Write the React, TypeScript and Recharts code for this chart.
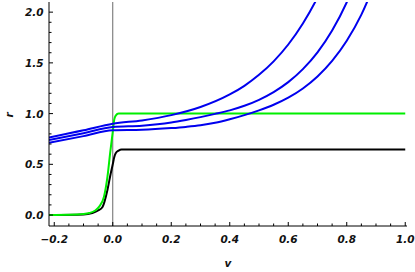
import React from "react";
import { LineChart, Line, XAxis, YAxis, ReferenceLine } from "recharts";

// r(v) curves
const greenCurve = [
    { v: -0.218, r: 0 }, { v: -0.15, r: 0.002 }, { v: -0.1, r: 0.01 }, { v: -0.08, r: 0.02 },
    { v: -0.06, r: 0.045 }, { v: -0.047, r: 0.08 }, { v: -0.03, r: 0.18 }, { v: -0.018, r: 0.38 },
    { v: -0.009, r: 0.61 }, { v: 0, r: 0.82 }, { v: 0.005, r: 0.94 }, { v: 0.01, r: 0.98 },
    { v: 0.02, r: 1.0 }, { v: 0.05, r: 1.0 }, { v: 1.0, r: 1.0 },
];

const blackCurve = [
    { v: -0.218, r: 0 }, { v: -0.1, r: 0.005 }, { v: -0.07, r: 0.02 }, { v: -0.05, r: 0.045 },
    { v: -0.035, r: 0.08 }, { v: -0.018, r: 0.25 }, { v: -0.007, r: 0.41 }, { v: 0, r: 0.5 },
    { v: 0.005, r: 0.57 }, { v: 0.01, r: 0.61 }, { v: 0.02, r: 0.635 }, { v: 0.03, r: 0.645 },
    { v: 0.05, r: 0.645 }, { v: 1.0, r: 0.645 },
];

const blueCurve1 = [
    { v: -0.218, r: 0.765 }, { v: -0.1, r: 0.835 }, { v: 0, r: 0.9 }, { v: 0.1, r: 0.933 },
    { v: 0.2, r: 0.985 }, { v: 0.3, r: 1.065 }, { v: 0.4, r: 1.189 }, { v: 0.45, r: 1.274 },
    { v: 0.5, r: 1.382 }, { v: 0.55, r: 1.515 }, { v: 0.6, r: 1.681 }, { v: 0.65, r: 1.888 },
    { v: 0.7, r: 2.145 }, { v: 0.75, r: 2.47 },
];

const blueCurve2 = [
    { v: -0.218, r: 0.74 }, { v: -0.1, r: 0.807 }, { v: 0, r: 0.867 }, { v: 0.1, r: 0.88 },
    { v: 0.2, r: 0.912 }, { v: 0.25, r: 0.937 }, { v: 0.3, r: 0.965 }, { v: 0.35, r: 0.997 },
    { v: 0.4, r: 1.032 }, { v: 0.45, r: 1.077 }, { v: 0.5, r: 1.136 }, { v: 0.55, r: 1.212 },
    { v: 0.6, r: 1.31 }, { v: 0.65, r: 1.438 }, { v: 0.7, r: 1.604 }, { v: 0.75, r: 1.819 },
    { v: 0.8, r: 2.097 }, { v: 0.85, r: 2.459 },
];

const blueCurve3 = [
    { v: -0.218, r: 0.712 }, { v: -0.1, r: 0.778 }, { v: 0, r: 0.835 }, { v: 0.1, r: 0.84 },
    { v: 0.2, r: 0.857 }, { v: 0.25, r: 0.869 }, { v: 0.3, r: 0.885 }, { v: 0.35, r: 0.91 },
    { v: 0.4, r: 0.945 }, { v: 0.45, r: 0.985 }, { v: 0.5, r: 1.032 }, { v: 0.55, r: 1.087 },
    { v: 0.6, r: 1.157 }, { v: 0.65, r: 1.248 }, { v: 0.7, r: 1.366 }, { v: 0.75, r: 1.519 },
    { v: 0.8, r: 1.718 }, { v: 0.85, r: 1.976 }, { v: 0.9, r: 2.311 },
];

const xMajorTicks = [-0.2, 0, 0.2, 0.4, 0.6, 0.8, 1.0];
const xMinorTicks = [-0.15, -0.1, -0.05, 0.05, 0.1, 0.15, 0.25, 0.3, 0.35, 0.45, 0.5, 0.55, 0.65, 0.7, 0.75, 0.85, 0.9, 0.95];
const yMajorTicks = [0, 0.5, 1.0, 1.5, 2.0];
const yMinorTicks = [0.1, 0.2, 0.3, 0.4, 0.6, 0.7, 0.8, 0.9, 1.1, 1.2, 1.3, 1.4, 1.6, 1.7, 1.8, 1.9];

const xTicks = [...xMajorTicks, ...xMinorTicks].sort((a, b) => a - b);
const yTicks = [...yMajorTicks, ...yMinorTicks].sort((a, b) => a - b);

const xDomain = [-0.218, 1.006];
const yDomain = [-0.108, 2.1];

const labelFont = {
    fontFamily: "DejaVu Sans",
    fontWeight: "bold" as const,
    fontStyle: "italic" as const,
    fontSize: 10.5,
    fill: "#111",
};

const isMajor = (v: number, step: number) => Math.abs(v / step - Math.round(v / step)) < 1e-6;
const fmt = (v: number) => (v < 0 ? "\u2212" + Math.abs(v).toFixed(1) : v.toFixed(1));
const MAJOR = 4;
const MINOR = 2.5;

function BottomTick({ x, y, payload }: any) {
    const major = isMajor(payload.value, 0.2);
    return (
        <g>
            <line x1={x} x2={x} y1={y} y2={y - (major ? MAJOR : MINOR)} stroke="#000" />
            {major && (
                <text x={x} y={y + 16.5} textAnchor="middle" {...labelFont}>
                    {fmt(payload.value)}
                </text>
            )}
        </g>
    );
}

function TopTick({ x, y, payload }: any) {
    const major = isMajor(payload.value, 0.2);
    return <line x1={x} x2={x} y1={y} y2={y + (major ? MAJOR : MINOR)} stroke="#000" />;
}

function LeftTick({ x, y, payload }: any) {
    const major = isMajor(payload.value, 0.5);
    return (
        <g>
            <line x1={x} x2={x + (major ? MAJOR : MINOR)} y1={y} y2={y} stroke="#000" />
            {major && (
                <text x={x - 5.5} y={y + 4} textAnchor="end" {...labelFont}>
                    {fmt(payload.value)}
                </text>
            )}
        </g>
    );
}

function RightTick({ x, y, payload }: any) {
    const major = isMajor(payload.value, 0.5);
    return <line x1={x} x2={x - (major ? MAJOR : MINOR)} y1={y} y2={y} stroke="#000" />;
}

export default function App() {
    return (
        <div style={{ position: "absolute", left: 0, top: 0, background: "#fff" }}>
            <LineChart width={415} height={272} margin={{ top: 2, right: 8, bottom: 0, left: 0 }}>
                <XAxis
                    dataKey="v"
                    type="number"
                    domain={xDomain}
                    ticks={xTicks}
                    interval={0}
                    allowDataOverflow
                    height={46}
                    tickSize={0}
                    tickMargin={0}
                    tickLine={false}
                    tick={<BottomTick />}
                    axisLine={{ stroke: "#000" }}
                    label={{
                        content: () => (
                            <text x={228} y={267} textAnchor="middle" {...labelFont}>
                                v
                            </text>
                        ),
                    }}
                />
                <XAxis
                    xAxisId="top"
                    orientation="top"
                    type="number"
                    domain={xDomain}
                    ticks={xTicks}
                    interval={0}
                    allowDataOverflow
                    height={0}
                    tickSize={0}
                    tickMargin={0}
                    tickLine={false}
                    tick={<TopTick />}
                    axisLine={{ stroke: "#000" }}
                />
                <YAxis
                    type="number"
                    domain={yDomain}
                    ticks={yTicks}
                    interval={0}
                    allowDataOverflow
                    width={49}
                    tickSize={0}
                    tickMargin={0}
                    tickLine={false}
                    tick={<LeftTick />}
                    axisLine={{ stroke: "#000" }}
                    label={{
                        content: () => (
                            <text x={13} y={115} textAnchor="middle" transform="rotate(-90 13 115)" {...labelFont}>
                                r
                            </text>
                        ),
                    }}
                />
                <YAxis
                    yAxisId="right"
                    orientation="right"
                    type="number"
                    domain={yDomain}
                    ticks={yTicks}
                    interval={0}
                    allowDataOverflow
                    width={0}
                    tickSize={0}
                    tickMargin={0}
                    tickLine={false}
                    tick={<RightTick />}
                    axisLine={{ stroke: "#000" }}
                />
                <ReferenceLine x={0} stroke="#444" strokeWidth={0.8} />
                <Line data={blackCurve} dataKey="r" type="monotone" stroke="#000" strokeWidth={2} dot={false} isAnimationActive={false} />
                <Line data={greenCurve} dataKey="r" type="monotone" stroke="#00ee00" strokeWidth={2} dot={false} isAnimationActive={false} />
                <Line data={blueCurve1} dataKey="r" type="monotone" stroke="#0000ee" strokeWidth={2} dot={false} isAnimationActive={false} />
                <Line data={blueCurve2} dataKey="r" type="monotone" stroke="#0000ee" strokeWidth={2} dot={false} isAnimationActive={false} />
                <Line data={blueCurve3} dataKey="r" type="monotone" stroke="#0000ee" strokeWidth={2} dot={false} isAnimationActive={false} />
            </LineChart>
        </div>
    );
}
